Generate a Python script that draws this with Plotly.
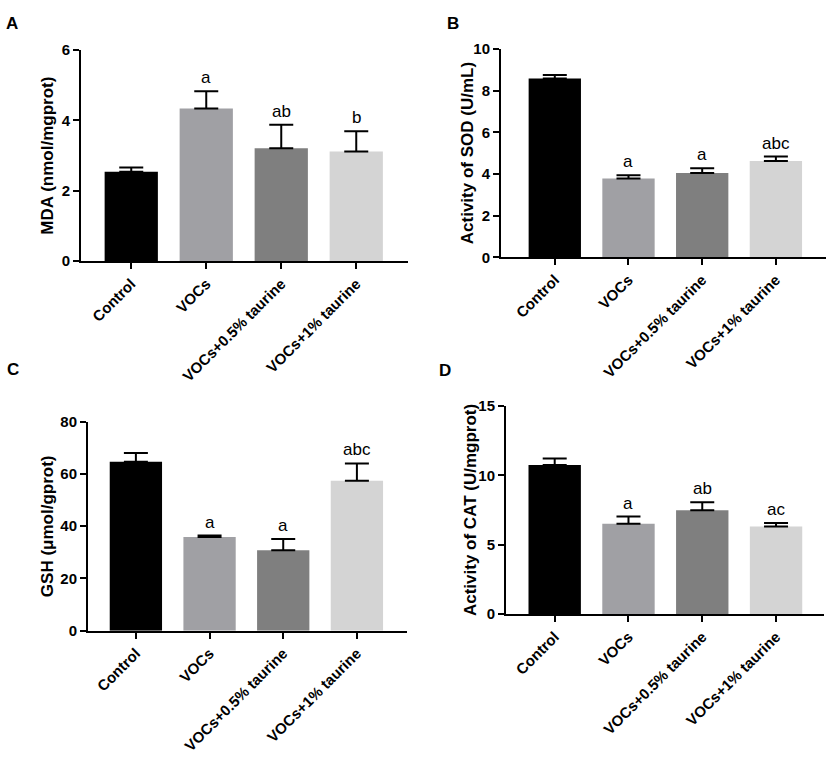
import plotly.graph_objects as go

categories = ["Control", "VOCs", "VOCs+0.5% taurine", "VOCs+1% taurine"]
bar_colors = ["#000000", "#a0a0a4", "#7f7f7f", "#d4d4d4"]

mda_mean = [2.54, 4.34, 3.21, 3.12]
mda_err = [0.12, 0.49, 0.67, 0.57]
mda_letters = ["", "a", "ab", "b"]

sod_mean = [8.59, 3.78, 4.05, 4.63]
sod_err = [0.16, 0.16, 0.23, 0.21]
sod_letters = ["", "a", "a", "abc"]

gsh_mean = [64.6, 35.9, 30.8, 57.4]
gsh_err = [3.4, 0.5, 4.3, 6.6]
gsh_letters = ["", "a", "a", "abc"]

cat_mean = [10.74, 6.51, 7.48, 6.32]
cat_err = [0.47, 0.52, 0.58, 0.24]
cat_letters = ["", "a", "ab", "ac"]

FONT = "Arial, Liberation Sans, sans-serif"
W, H = 829, 761

# panel: key, means, errs, letters, y title, y max, dtick, (x0, x1, ytop, ybot) in px, x range, title x
panels = [
    ("A", mda_mean, mda_err, mda_letters, "MDA (nmol/mgprot)", 6, 2,
     (81, 408, 42, 258), (-0.67, 3.69), 48),
    ("B", sod_mean, sod_err, sod_letters, "Activity of SOD (U/mL)", 10, 2,
     (501, 826, 41, 254), (-0.73, 3.68), 467),
    ("C", gsh_mean, gsh_err, gsh_letters, "GSH (μmol/gprot)", 80, 20,
     (88, 407, 422, 636), (-0.65, 3.68), 47),
    ("D", cat_mean, cat_err, cat_letters, "Activity of CAT (U/mgprot)", 15, 5,
     (506, 824, 406, 619), (-0.66, 3.65), 470),
]
letter_pos = {"A": (12, 15), "B": (453, 15), "C": (13, 369), "D": (445, 370)}

fig = go.Figure()
annotations = []
for i, (key, means, errs, letters, ytitle, ymax, dtick, box, xr, tx) in enumerate(panels):
    n = "" if i == 0 else str(i + 1)
    x0, x1, yt, yb = box
    fig.add_trace(go.Bar(
        x=list(range(len(categories))),
        y=means,
        width=0.71,
        marker=dict(color=bar_colors, line=dict(width=0)),
        error_y=dict(type="data", array=errs, arrayminus=[0] * len(errs), symmetric=False,
                     color="#000000", thickness=2, width=12),
        xaxis="x" + n, yaxis="y" + n,
        showlegend=False,
    ))
    fig.layout["xaxis" + n] = dict(
        domain=[x0 / W, x1 / W], range=list(xr), anchor="y" + n,
        tickvals=list(range(len(categories))), ticktext=categories, tickangle=-45,
        ticks="outside", ticklen=6, tickwidth=2, tickcolor="#000000",
        showline=True, linecolor="#000000", linewidth=2, showgrid=False, zeroline=False,
        tickfont=dict(family=FONT, size=15, color="#000000", weight="bold"),
    )
    fig.layout["yaxis" + n] = dict(
        domain=[1 - yb / H, 1 - yt / H], range=[0, ymax], anchor="x" + n,
        dtick=dtick, ticks="outside", ticklen=6, tickwidth=2, tickcolor="#000000",
        showline=True, linecolor="#000000", linewidth=2, showgrid=False, zeroline=False,
        tickfont=dict(family=FONT, size=15, color="#000000", weight="bold"),
    )
    annotations.append(dict(
        xref="paper", yref="paper", x=tx / W, y=1 - (yt + yb) / 2 / H,
        text=ytitle, textangle=-90, showarrow=False,
        font=dict(family=FONT, size=17, color="#000000", weight="bold"),
        xanchor="center", yanchor="middle",
    ))
    for j, lab in enumerate(letters):
        if lab:
            annotations.append(dict(
                xref="x" + n, yref="y" + n, x=j, y=means[j] + errs[j],
                text=lab, showarrow=False, yanchor="bottom", yshift=2,
                font=dict(family=FONT, size=17, color="#000000"),
            ))
    lx, ly = letter_pos[key]
    annotations.append(dict(
        xref="paper", yref="paper", x=lx / W, y=1 - ly / H, text=key,
        showarrow=False, xanchor="center", yanchor="middle",
        font=dict(family=FONT, size=17, color="#000000", weight="bold"),
    ))

fig.update_layout(
    width=W, height=H,
    margin=dict(l=0, r=0, t=0, b=0),
    paper_bgcolor="#ffffff", plot_bgcolor="#ffffff",
    annotations=annotations,
)

# no body margin and no scrollbars, so the figure fills the window exactly
page_fix = (
    "document.body.style.margin = '0';"
    "document.body.style.overflow = 'hidden';"
    "document.documentElement.style.overflow = 'hidden';"
)
fig.write_html("out.html", config={"displayModeBar": False}, post_script=page_fix)
